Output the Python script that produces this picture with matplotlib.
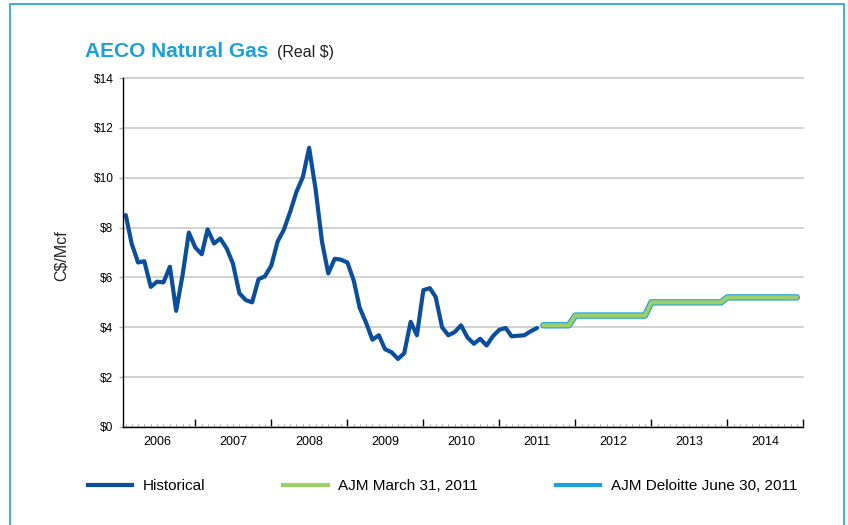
import matplotlib
matplotlib.use('Agg')
import matplotlib.pyplot as plt
import matplotlib.dates as mdates
from matplotlib.patches import Rectangle
from matplotlib.lines import Line2D
import pandas as pd
import datetime as dt

plt.rcParams['font.family'] = ['Liberation Sans', 'DejaVu Sans']

# ---------------- data ----------------
hist_start = '2006-02-01'
hist_values = [8.50, 7.36, 6.60, 6.65, 5.62, 5.83, 5.80, 6.43, 4.66, 6.10,
               7.80, 7.20, 6.93, 7.93, 7.36, 7.56, 7.16, 6.55, 5.36, 5.09,
               5.00, 5.93, 6.04, 6.47, 7.45, 7.90, 8.63, 9.43, 10.03, 11.20,
               9.55, 7.43, 6.16, 6.75, 6.71, 6.60, 5.86, 4.78, 4.18, 3.50,
               3.68, 3.12, 3.00, 2.73, 2.96, 4.22, 3.68, 5.49, 5.57, 5.22,
               4.00, 3.68, 3.81, 4.08, 3.59, 3.34, 3.54, 3.27, 3.64, 3.90,
               3.97, 3.64, 3.66, 3.68, 3.84, 3.97]

forecast_start = '2011-08-01'
ajm_march_values = [4.08, 4.08, 4.08, 4.08, 4.08,
                    4.47, 4.47, 4.47, 4.47, 4.47, 4.47, 4.47, 4.47, 4.47, 4.47, 4.47, 4.47,
                    5.00, 5.00, 5.00, 5.00, 5.00, 5.00, 5.00, 5.00, 5.00, 5.00, 5.00, 5.00,
                    5.20, 5.20, 5.20, 5.20, 5.20, 5.20, 5.20, 5.20, 5.20, 5.20, 5.20, 5.20]
ajm_deloitte_values = [4.08, 4.08, 4.08, 4.08, 4.08,
                       4.47, 4.47, 4.47, 4.47, 4.47, 4.47, 4.47, 4.47, 4.47, 4.47, 4.47, 4.47,
                       5.00, 5.00, 5.00, 5.00, 5.00, 5.00, 5.00, 5.00, 5.00, 5.00, 5.00, 5.00,
                       5.20, 5.20, 5.20, 5.20, 5.20, 5.20, 5.20, 5.20, 5.20, 5.20, 5.20, 5.20]

years = [2006, 2007, 2008, 2009, 2010, 2011, 2012, 2013, 2014]
y_ticks = [0, 2, 4, 6, 8, 10, 12, 14]
y_labels = ['$0', '$2', '$4', '$6', '$8', '$10', '$12', '$14']
series_names = ['Historical', 'AJM March 31, 2011', 'AJM Deloitte June 30, 2011']

# ---------------- style ----------------
C_HIST = '#0b4f9c'
C_GREEN = '#9fcf68'
C_BLUE = '#1ea2dd'
C_TITLE = '#1ca0da'

W, H = 848, 525
fig = plt.figure(figsize=(W / 100, H / 100), dpi=100)
ax = fig.add_axes([123.3 / W, 1 - 427 / H, 680 / W, 349 / H])

hist_dates = pd.date_range(hist_start, periods=len(hist_values), freq='MS')
fc_dates = pd.date_range(forecast_start, periods=len(ajm_march_values), freq='MS')

ax.plot(hist_dates, hist_values, color=C_HIST, lw=3.0,
        solid_joinstyle='round', solid_capstyle='round', zorder=4)
ax.plot(fc_dates, ajm_deloitte_values, color=C_BLUE, lw=4.6,
        solid_joinstyle='round', solid_capstyle='round', zorder=3)
ax.plot(fc_dates, ajm_march_values, color=C_GREEN, lw=3.0,
        solid_joinstyle='round', solid_capstyle='round', zorder=3.5)

ax.set_xlim(dt.datetime(2006, 1, 20), dt.datetime(2015, 1, 1))
ax.set_ylim(0, 14)

ax.set_yticks(y_ticks)
ax.set_yticklabels(y_labels)
ax.tick_params(axis='y', direction='out', length=3, width=1, color='#b0b0b0',
               pad=4.0, labelsize=8.6)

ax.xaxis.set_major_locator(mdates.YearLocator())
ax.xaxis.set_minor_locator(mdates.MonthLocator())
ax.xaxis.set_major_formatter(plt.NullFormatter())
ax.tick_params(axis='x', which='major', direction='in', length=5.5, width=1, color='black')
ax.tick_params(axis='x', which='minor', direction='in', length=2.2, width=0.6, color='#888888')

for y in years:
    ax.annotate(str(y), xy=(dt.datetime(y, 7, 1), 0), xycoords=('data', 'axes fraction'),
                xytext=(0, -11), textcoords='offset points',
                ha='center', va='center', fontsize=9, annotation_clip=False)

ax.yaxis.grid(True, color='#c6c6c6', lw=1.1)
ax.set_axisbelow(True)
for g in ax.get_ygridlines():
    g.set_clip_on(False)

ax.spines['top'].set_visible(False)
ax.spines['right'].set_visible(False)
ax.spines['left'].set_color('black')
ax.spines['bottom'].set_color('black')
ax.spines['left'].set_linewidth(1)
ax.spines['bottom'].set_linewidth(1)
ax.spines['left'].set_zorder(5)
ax.spines['bottom'].set_zorder(5)

# titles
fig.text(85 / W, 1 - 57 / H, 'AECO Natural Gas', fontsize=15, fontweight='bold',
         color=C_TITLE, va='baseline', ha='left')
fig.text(277 / W, 1 - 57 / H, '(Real $)', fontsize=11.5, color='#222222',
         va='baseline', ha='left')
fig.text(61 / W, 1 - 256 / H, 'C$/Mcf', fontsize=11.5, rotation=90,
         va='center', ha='center', color='#222222')

# legend
handles = [Line2D([], [], color=C_HIST, lw=3.0),
           Line2D([], [], color=C_GREEN, lw=3.0),
           Line2D([], [], color=C_BLUE, lw=3.0)]
fig.legend(handles, series_names, loc='center left',
           bbox_to_anchor=(88 / W, 1 - 486 / H), ncol=3, frameon=False,
           fontsize=11, handlelength=2.9, handletextpad=0.7,
           columnspacing=5.1, borderpad=0, borderaxespad=0)

# outer border
fig.patches.append(Rectangle((10 / W, -0.05), (844 - 10) / W, 1.05 - 4 / H,
                             transform=fig.transFigure, fill=False,
                             ec='#2aa9e0', lw=1.3))

fig.savefig('out.png', dpi=100)
